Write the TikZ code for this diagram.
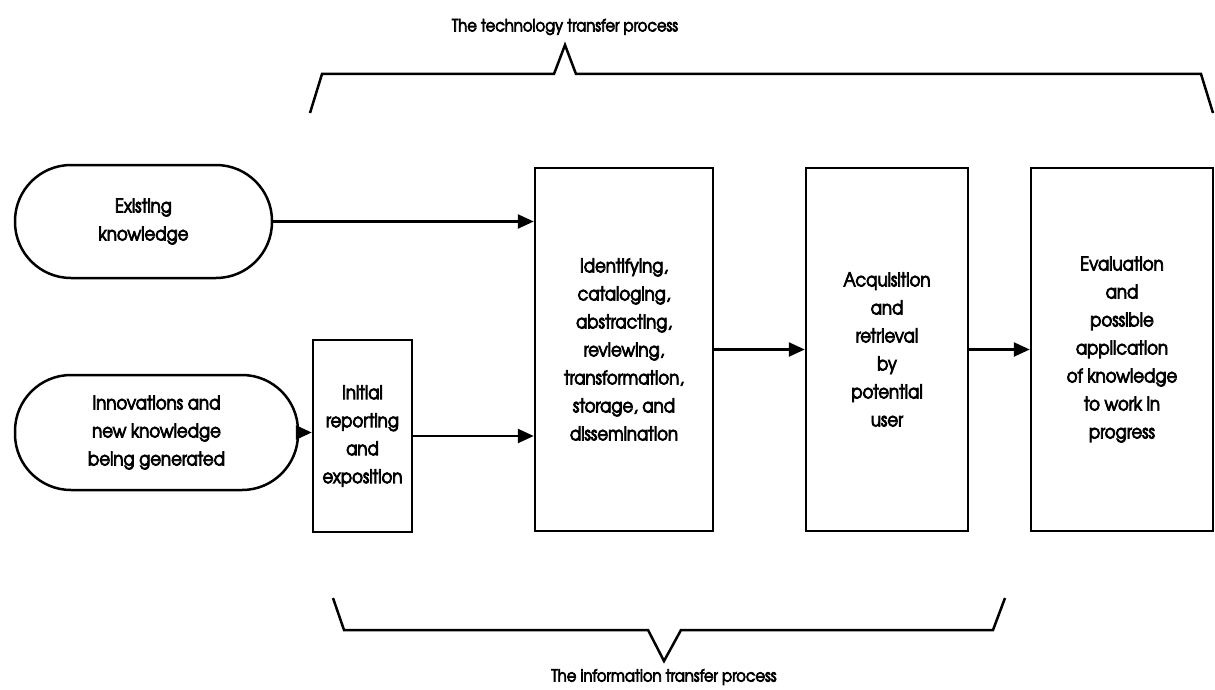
\documentclass[tikz,border=0pt]{standalone}
\usepackage{fontspec}
\setmainfont{texgyreadventor-regular.otf}[FakeStretch=0.87, FakeBold=4]
\usetikzlibrary{arrows.meta}

\newcommand{\flowfont}{\fontsize{19pt}{28pt}\selectfont}
\newcommand{\bracefont}{\fontsize{17pt}{20pt}\selectfont}

\begin{document}
\begin{tikzpicture}[x=1pt, y=-1pt, line width=2.5pt, line join=miter,
  every node/.style={font=\flowfont, align=center, inner sep=0pt},
  stepbox/.style={draw, rectangle},
  source/.style={draw, rectangle, rounded corners=56pt},
  bracelabel/.style={font=\bracefont},
  flow/.style={-{Triangle[length=16pt, width=14pt]}}
]
\useasboundingbox (0,0) rectangle (1215,690);

% knowledge sources
\node[source, minimum width=257pt, minimum height=113pt] (exist) at (143.5,221.5)
  {Existing\\knowledge};
\node[source, minimum width=283pt, minimum height=115pt] (innov) at (156.5,432.5)
  {Innovations and\\new knowledge\\being generated};

% process stages
\node[stepbox, minimum width=99pt, minimum height=192pt] (init) at (362.5,436)
  {Initial\\reporting\\and\\exposition};
\node[stepbox, minimum width=178pt, minimum height=363pt] (ident) at (624,349.5)
  {Identifying,\\cataloging,\\abstracting,\\reviewing,\\transformation,\\storage, and\\dissemination};
\node[stepbox, minimum width=162pt, minimum height=363pt] (acq) at (887,349.5)
  {Acquisition\\and\\retrieval\\by\\potential\\user};
\node[stepbox, minimum width=182pt, minimum height=363pt] (eval) at (1122,349.5)
  {Evaluation\\and\\possible\\application\\of knowledge\\to work in\\progress};

% connectors
\draw[flow] (exist.east) -- (exist.east -| ident.west);
\draw[flow] (innov.east) -- (innov.east -| init.west);
\draw[flow] (init.east) -- (init.east -| ident.west);
\draw[flow] (ident.east) -- (acq.west);
\draw[flow] (acq.east) -- (eval.west);

% braces
\draw (310,113) -- (322,74) -- (554,74) -- (565,45) -- (576,74) -- (1201,74) -- (1213,113);
\node[bracelabel] (techlabel) at (565,27) {The technology transfer process};
\draw (333,598) -- (344,630) -- (648,630) -- (664,661) -- (681,630) -- (993,630) -- (1005,598);
\node[bracelabel] (infolabel) at (664,677) {The information transfer process};
\end{tikzpicture}
\end{document}
